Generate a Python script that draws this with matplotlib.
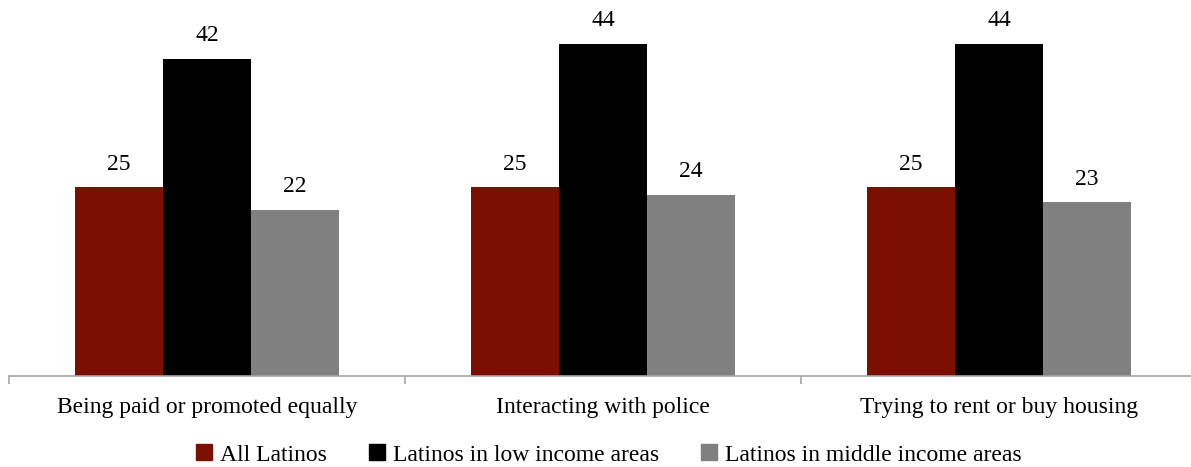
import matplotlib
matplotlib.use("Agg")
import matplotlib.pyplot as plt
import numpy as np

categories = ["Being paid or promoted equally", "Interacting with police", "Trying to rent or buy housing"]
series_names = ["All Latinos", "Latinos in low income areas", "Latinos in middle income areas"]
all_latinos = [25, 25, 25]
low_income = [42, 44, 44]
middle_income = [22, 24, 23]
colors = ["#7B1000", "#000000", "#808080"]

plt.rcParams['font.family'] = ['Liberation Serif', 'DejaVu Serif']

W, H = 1191, 467
fig = plt.figure(figsize=(W/100, H/100), dpi=100)
ax = fig.add_axes([9/W, (H-376)/H, 1188/W, 376/H])

x = np.arange(len(categories))
bw = 0.2222
for i, (vals, c, name) in enumerate(zip([all_latinos, low_income, middle_income], colors, series_names)):
    pos = x + (i - 1) * bw
    bars = ax.bar(pos, vals, width=bw, color=c, label=name, zorder=2)
    for b, v in zip(bars, vals):
        ax.annotate(f"{v}", (b.get_x() + b.get_width()/2, v), xytext=(0, 9),
                    textcoords="offset points", ha="center", va="bottom", fontsize=17)

ax.set_xlim(-0.5, 2.5)
ax.set_ylim(0, 49.8)
for s in ["top", "right", "left"]:
    ax.spines[s].set_visible(False)
ax.spines["bottom"].set_color("#a6a6a6")
ax.spines["bottom"].set_linewidth(1.2)
ax.set_yticks([])
ax.set_xticks([-0.5, 0.5, 1.5, 2.5], minor=False)
ax.set_xticklabels([])
ax.tick_params(axis='x', which='major', length=6, color="#a6a6a6", width=1.2, direction='out')
ax.set_xticks(x, minor=True)
ax.set_xticklabels(categories, minor=True, fontsize=17)
ax.tick_params(axis='x', which='minor', length=0, pad=15)

handles = [plt.Rectangle((0, 0), 1, 1, color=c) for c in colors]
fig.legend(handles, series_names, loc="center", bbox_to_anchor=(609/W, (H-455)/H),
           ncol=3, frameon=False, fontsize=17, handlelength=0.65, handleheight=0.65,
           handletextpad=0.35, columnspacing=1.8)

fig.savefig("out.png", dpi=100)
